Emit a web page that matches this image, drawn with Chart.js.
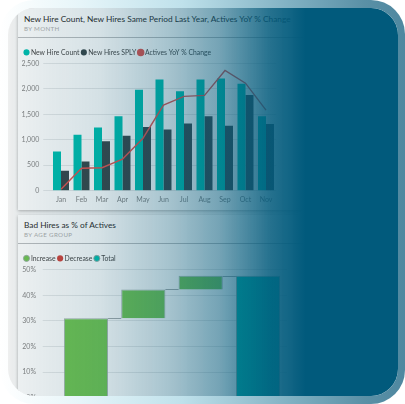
<!DOCTYPE html>
<html>
<head>
<meta charset="utf-8">
<script src="https://cdn.jsdelivr.net/npm/chart.js@4.4.1/dist/chart.umd.min.js"></script>
<style>
  html, body { margin: 0; padding: 0; width: 405px; height: 404px; overflow: hidden; background: #fff; font-family: Lato, "Open Sans", sans-serif; }
  #frame { position: absolute; left: 0; top: 0; width: 405px; height: 404px; border-radius: 34px;
    background: linear-gradient(to right, #ffffff 0%, #e6f5f9 20%, #bfe1eb 45%, #7fb0c2 72%, #5a90a6 90%, #4f88a0 100%); }
  #panel { position: absolute; left: 8px; top: 8px; width: 390px; height: 388px; border-radius: 27px; overflow: hidden; background: #eeefef; }
  .card { position: absolute; left: 10px; width: 380px; background: #f4f5f5; box-shadow: 0 1px 3px rgba(0,0,0,0.28); }
  #card1 { top: 0; height: 202px; }
  #card2 { top: 207px; height: 200px; }
  .title { position: absolute; left: 6px; white-space: nowrap; color: #2a2a2a; font-size: 9px; line-height: 10px; }
  .sub { position: absolute; left: 6px; white-space: nowrap; color: #a8a8a8; font-size: 6.2px; line-height: 6px; letter-spacing: 0.35px; }
  .sep { position: absolute; left: 0; right: 0; height: 1px; background: #b4b7b9; }
  canvas { position: absolute; left: 0; }
  #overlay { position: absolute; left: 0; top: 0; width: 390px; height: 388px; pointer-events: none;
    background: linear-gradient(to right, rgba(1,90,124,0) 0px, rgba(1,90,124,0.03) 10px, rgba(1,90,124,0.13) 92px,
      rgba(1,90,124,0.32) 162px, rgba(1,90,124,0.53) 212px, rgba(1,90,124,0.85) 262px, rgba(1,90,124,1) 297px, rgba(1,90,124,1) 390px); }
</style>
</head>
<body>
<div id="frame"></div>
<div id="panel">
  <div class="card" id="card1">
    <div class="title" id="t1" style="top:6px">New Hire Count, New Hires Same Period Last Year, Actives YoY % Change</div>
    <div class="sub" style="top:18px">BY MONTH</div>
    <div class="sep" style="top:29px"></div>
    <canvas id="hires" width="300" height="166" style="top:34px"></canvas>
  </div>
  <div class="card" id="card2">
    <div class="title" id="t2" style="top:5px">Bad Hires as % of Actives</div>
    <div class="sub" style="top:17px">BY AGE GROUP</div>
    <div class="sep" style="top:28px"></div>
    <canvas id="badhires" width="300" height="175" style="top:30px"></canvas>
  </div>
  <div id="overlay"></div>
</div>
<script>
// top chart: new hires by month
const months = ['Jan', 'Feb', 'Mar', 'Apr', 'May', 'Jun', 'Jul', 'Aug', 'Sep', 'Oct', 'Nov'];
const newHireCount = [770, 1100, 1240, 1460, 1980, 2180, 1950, 2180, 2200, 2100, 1460];
const newHiresSPLY = [390, 575, 970, 1080, 1250, 1200, 1320, 1460, 1275, 1880, 1310];
const activesYoY = [0.03, 0.44, 0.45, 0.62, 1.03, 1.68, 1.85, 1.87, 2.36, 2.11, 1.58];
const hireTicks = [0, 500, 1000, 1500, 2000, 2500];

// bottom chart: waterfall by age group
const ageGroups = ['<25', '25-34', '35+', 'Total'];
const badHireIncrease = [31.0, 11.3, 5.3];
const pctTicks = [0, 10, 20, 30, 40, 50];

Chart.defaults.font.family = "Lato, 'Open Sans', sans-serif";
Chart.defaults.animation = false;

// fit the first title to its width in the picture, same size for the second
var t1 = document.getElementById('t1');
var size = 9 * 267 / t1.getBoundingClientRect().width;
t1.style.fontSize = size + 'px';
document.getElementById('t2').style.fontSize = size + 'px';

var gridCol = '#dcdfe0';
var tickCol = '#808080';

var idhtml = document.getElementById('hires').getContext('2d');
var g_hires = new Chart(idhtml, {
  type: 'bar',
  data: {
    labels: months,
    datasets: [{
      label: 'New Hire Count',
      data: newHireCount,
      backgroundColor: '#01B8AA',
      categoryPercentage: 0.78,
      barPercentage: 1.0
    }, {
      label: 'New Hires SPLY',
      data: newHiresSPLY,
      backgroundColor: '#374649',
      categoryPercentage: 0.78,
      barPercentage: 1.0
    }, {
      type: 'line',
      label: 'Actives YoY % Change',
      data: activesYoY,
      yAxisID: 'y1',
      order: -1,
      borderColor: '#D9504C',
      backgroundColor: '#D9504C',
      borderWidth: 1.4,
      pointRadius: 0,
      tension: 0
    }]
  },
  options: {
    responsive: false,
    devicePixelRatio: 1,
    layout: { padding: { left: 4, right: 41.75, top: 3.5, bottom: 0 } },
    plugins: {
      tooltip: { enabled: false },
      legend: {
        align: 'start',
        maxHeight: 17.8,
        labels: {
          usePointStyle: true, pointStyle: 'circle',
          boxWidth: 2, boxHeight: 4.3, padding: 3.5,
          color: '#444', font: { size: 6.8 },
          sort: function (a, b) { return a.datasetIndex - b.datasetIndex; }
        }
      }
    },
    scales: {
      x: {
        grid: { display: false, drawTicks: false },
        border: { display: false },
        ticks: { color: tickCol, font: { size: 7 }, padding: 5, maxRotation: 0 },
        afterFit: function (s) { s.height = 17.3; }
      },
      y: {
        min: hireTicks[0], max: hireTicks[hireTicks.length - 1],
        afterBuildTicks: function (s) { s.ticks = hireTicks.map(function (v) { return { value: v }; }); },
        grid: { color: gridCol, tickLength: 7.45, drawTicks: true },
        border: { display: false },
        ticks: { color: tickCol, font: { size: 7 }, padding: 4,
          callback: function (v) { return v.toLocaleString('en-US'); } },
        afterFit: function (s) { s.width = 28.75; }
      },
      y1: { display: false, min: 0, max: 2.5 }
    }
  }
});

// running totals of the waterfall, built from the increases
var running = [];
var acc = 0;
badHireIncrease.forEach(function (v) { acc += v; running.push(Math.round(acc * 10) / 10); });
var incBars = badHireIncrease.map(function (v, i) { return [running[i] - v, running[i]]; }).concat([null]);
var totalBars = ageGroups.map(function (g, i) { return i === ageGroups.length - 1 ? [0, running[running.length - 1]] : null; });

var connectors = {
  id: 'connectors',
  afterDatasetsDraw: function (chart) {
    var ctx = chart.ctx, x = chart.scales.x, y = chart.scales.y;
    var half = chart.getDatasetMeta(0).data[0].width / 2;
    ctx.save();
    ctx.strokeStyle = '#9ea4a6';
    ctx.lineWidth = 1;
    for (var i = 0; i < running.length; i++) {
      var yy = Math.round(y.getPixelForValue(running[i])) + 0.5;
      ctx.beginPath();
      ctx.moveTo(x.getPixelForValue(i) + half, yy);
      ctx.lineTo(x.getPixelForValue(i + 1) - half, yy);
      ctx.stroke();
    }
    ctx.restore();
  }
};

var idhtml2 = document.getElementById('badhires').getContext('2d');
var g_bad = new Chart(idhtml2, {
  type: 'bar',
  data: {
    labels: ageGroups,
    datasets: [{
      label: 'Increase',
      data: incBars,
      backgroundColor: '#6DBE50',
      borderColor: 'rgba(150,165,160,0.9)',
      borderWidth: 1,
      grouped: false,
      categoryPercentage: 0.77,
      barPercentage: 1.0
    }, {
      label: 'Decrease',
      data: ageGroups.map(function () { return null; }),
      backgroundColor: '#C8423A',
      grouped: false
    }, {
      label: 'Total',
      data: totalBars,
      backgroundColor: '#01B8AA',
      borderColor: 'rgba(150,165,160,0.9)',
      borderWidth: 1,
      grouped: false,
      categoryPercentage: 0.77,
      barPercentage: 1.0
    }]
  },
  options: {
    responsive: false,
    devicePixelRatio: 1,
    layout: { padding: { left: 4, right: 31.3, top: 6.5, bottom: 0 } },
    plugins: {
      tooltip: { enabled: false },
      legend: {
        align: 'start',
        maxHeight: 18.2,
        labels: {
          usePointStyle: true, pointStyle: 'circle',
          boxWidth: 2, boxHeight: 4.3, padding: 3.5,
          color: '#444', font: { size: 6.8 }
        }
      }
    },
    scales: {
      x: {
        grid: { display: false, drawTicks: false },
        border: { display: false },
        ticks: { display: false },
        afterFit: function (s) { s.height = 22.3; }
      },
      y: {
        min: pctTicks[0], max: pctTicks[pctTicks.length - 1],
        afterBuildTicks: function (s) { s.ticks = pctTicks.map(function (v) { return { value: v }; }); },
        grid: { color: gridCol, tickLength: 14.6, drawTicks: true },
        border: { display: false },
        ticks: { color: tickCol, font: { size: 7 }, padding: 6.7,
          callback: function (v) { return v + '%'; } },
        afterFit: function (s) { s.width = 35.3; }
      }
    }
  },
  plugins: [connectors]
});
</script>
</body>
</html>
